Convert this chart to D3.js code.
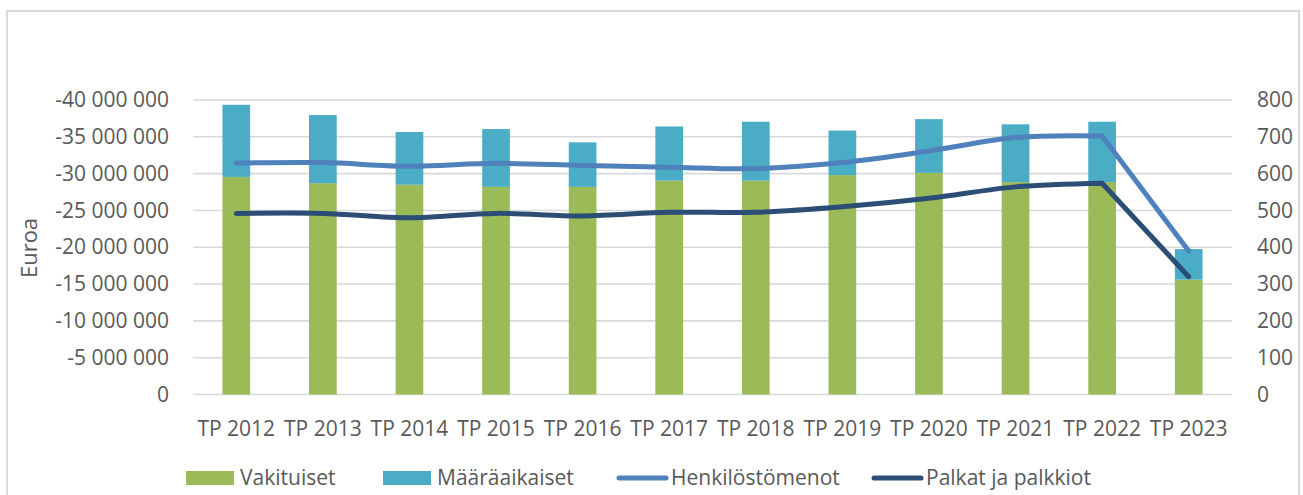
<!DOCTYPE html>
<html>
<head>
<meta charset="utf-8">
<script src="https://cdn.jsdelivr.net/npm/d3@7"></script>
<style>
  html, body { margin: 0; padding: 0; background: #fff; }
  svg { display: block; }
  text { font-family: "Open Sans", "Noto Sans", sans-serif; fill: #595959; }
</style>
</head>
<body>
<svg id="chart" width="1303" height="495"></svg>
<script>
// ---- data ----
const categories = ["TP 2012","TP 2013","TP 2014","TP 2015","TP 2016","TP 2017","TP 2018","TP 2019","TP 2020","TP 2021","TP 2022","TP 2023"];
// persons (right axis)
const vakituiset   = [591, 574, 570, 564, 564, 581, 581, 596, 602, 577, 577, 312];
const maaraaikaiset = [196, 185, 143, 157, 121, 147, 160, 121, 146, 157, 164, 83];
// euros (left axis, negative values)
const henkilostomenot = [-31440000, -31500000, -31000000, -31400000, -31100000, -30860000, -30670000, -31500000, -33070000, -34900000, -35100000, -19500000];
const palkat = [-24600000, -24600000, -24000000, -24600000, -24250000, -24750000, -24750000, -25500000, -26650000, -28200000, -28700000, -16000000];
const leftTicks = [0, -5000000, -10000000, -15000000, -20000000, -25000000, -30000000, -35000000, -40000000];
const rightTicks = [0, 100, 200, 300, 400, 500, 600, 700, 800];
const legendItems = [
  {name: "Vakituiset", type: "rect", color: "#9BBB59"},
  {name: "Määräaikaiset", type: "rect", color: "#4BACC6"},
  {name: "Henkilöstömenot", type: "line", color: "#4F81BD"},
  {name: "Palkat ja palkkiot", type: "line", color: "#2C4D75"}
];

// ---- layout ----
const svg = d3.select("#chart");
const X0 = 193, X1 = 1232, YT = 100, YB = 394.5;
const fs = 21;

// border
svg.append("rect").attr("x", 7).attr("y", 11).attr("width", 1292).attr("height", 500)
  .attr("fill", "none").attr("stroke", "#d9d9d9").attr("stroke-width", 2);

const x = d3.scaleBand().domain(categories).range([X0, X1]).paddingInner(0.68).paddingOuter(0.34);
const yL = d3.scaleLinear().domain([0, -40000000]).range([YB, YT]);
const yR = d3.scaleLinear().domain([0, 800]).range([YB, YT]);

const loc = d3.formatLocale({decimal: ",", thousands: "\u00a0", grouping: [3], currency: ["", " €"], minus: "-"});
const fmt = loc.format(",d");

// gridlines
svg.append("g").selectAll("line").data(rightTicks).join("line")
  .attr("x1", X0).attr("x2", X1)
  .attr("y1", d => yR(d)).attr("y2", d => yR(d))
  .attr("stroke", "#d9d9d9").attr("stroke-width", 1.6);

// left axis
const gL = svg.append("g").attr("transform", `translate(${X0},0)`)
  .call(d3.axisLeft(yL).tickValues(leftTicks).tickFormat(fmt).tickSize(0).tickPadding(24));
gL.select(".domain").remove();
gL.selectAll("text").attr("font-size", fs).attr("font-family", null).style("fill", "#595959");

// right axis
const gR = svg.append("g").attr("transform", `translate(${X1},0)`)
  .call(d3.axisRight(yR).tickValues(rightTicks).tickFormat(d3.format("d")).tickSize(0).tickPadding(25));
gR.select(".domain").remove();
gR.selectAll("text").attr("font-size", fs).attr("font-family", null).style("fill", "#595959");

// x axis labels
const gX = svg.append("g").attr("transform", `translate(0,${YB})`)
  .call(d3.axisBottom(x).tickSize(0).tickPadding(27));
gX.select(".domain").remove();
gX.selectAll("text").attr("font-size", fs).attr("font-family", null).style("fill", "#595959");

// y title
svg.append("text").attr("transform", "translate(37,248) rotate(-90)")
  .attr("text-anchor", "middle").attr("font-size", 22).text("Euroa");

// stacked bars
const stackData = categories.map((c, i) => ({cat: c, v: vakituiset[i], m: maaraaikaiset[i]}));
const stack = d3.stack().keys(["v", "m"])(stackData);
const barColors = {v: "#9BBB59", m: "#4BACC6"};
svg.append("g").selectAll("g").data(stack).join("g")
  .attr("fill", d => barColors[d.key])
  .selectAll("rect").data(d => d).join("rect")
  .attr("x", d => x(d.data.cat)).attr("width", x.bandwidth())
  .attr("y", d => yR(d[1])).attr("height", d => yR(d[0]) - yR(d[1]));

// lines: smoothed through 2012-2022, straight drop to 2023
const cx = c => x(c) + x.bandwidth() / 2;
const pts = arr => arr.map((v, i) => [cx(categories[i]), yL(v)]);
const smooth = d3.line().curve(d3.curveCatmullRom.alpha(0.5));
const straight = d3.line();
function drawSeries(arr, color) {
  const p = pts(arr);
  const n = p.length;
  const d = smooth(p.slice(0, n - 1)) + "L" + p[n - 1][0] + "," + p[n - 1][1];
  svg.append("path").attr("d", d)
    .attr("fill", "none").attr("stroke", color).attr("stroke-width", 5)
    .attr("stroke-linecap", "round").attr("stroke-linejoin", "round");
}
drawSeries(henkilostomenot, "#4F81BD");
drawSeries(palkat, "#2C4D75");

// legend
const legX = [186, 383, 617, 872];
const lg = svg.append("g");
legendItems.forEach((it, i) => {
  const g = lg.append("g").attr("transform", `translate(${legX[i]},0)`);
  if (it.type === "rect") {
    g.append("rect").attr("x", 0).attr("y", 471).attr("width", 48).attr("height", 14).attr("fill", it.color);
  } else {
    g.append("line").attr("x1", 2).attr("x2", 49).attr("y1", 478).attr("y2", 478)
      .attr("stroke", it.color).attr("stroke-width", 5).attr("stroke-linecap", "round");
  }
  g.append("text").attr("x", 54).attr("y", 485).attr("font-size", fs).text(it.name);
});
</script>
</body>
</html>
